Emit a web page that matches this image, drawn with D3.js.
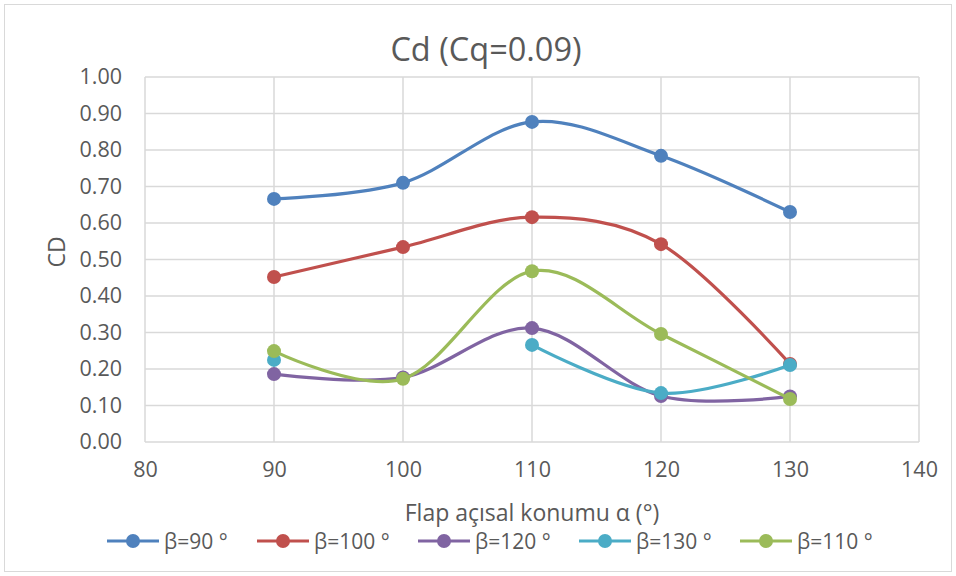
<!DOCTYPE html>
<html><head><meta charset="utf-8">
<script src="https://cdn.jsdelivr.net/npm/d3@7/dist/d3.min.js"></script>
<style>body{margin:0;background:#fff}svg{display:block}</style>
</head><body><svg id="c" width="956" height="576"></svg>
<script>
const xValues = [90, 100, 110, 120, 130];
const xTicks = [80, 90, 100, 110, 120, 130, 140];
const yTicks = [0, 0.1, 0.2, 0.3, 0.4, 0.5, 0.6, 0.7, 0.8, 0.9, 1.0];
const seriesNames = ["β=90 °", "β=100 °", "β=120 °", "β=130 °", "β=110 °"];
const seriesColors = ["#4F81BD", "#C0504D", "#8064A2", "#4BACC6", "#9BBB59"];
const beta90 = [0.666, 0.710, 0.877, 0.784, 0.630];
const beta100 = [0.452, 0.534, 0.616, 0.542, 0.214];
const beta120 = [0.186, 0.177, 0.312, 0.126, 0.125];
const beta130 = [0.225, null, 0.266, 0.134, 0.211];
const beta110 = [0.249, 0.173, 0.468, 0.296, 0.118];
const seriesValues = [beta90, beta100, beta120, beta130, beta110];
const title = "Cd (Cq=0.09)";
const xLabel = "Flap açısal konumu α (°)";
const yLabel = "CD";

const svg = d3.select("#c");
const font = "'Open Sans', 'Liberation Sans', sans-serif";
const txt = "#595959";
const grid = "#d9d9d9";

svg.append("rect").attr("x",4.5).attr("y",4.5).attr("width",947).attr("height",567)
  .attr("fill","#fff").attr("stroke","#d9d9d9").attr("stroke-width",1);

const x = d3.scaleLinear().domain([80,140]).range([145,919]);
const y = d3.scaleLinear().domain([0,1]).range([442,77]);

const g = svg.append("g");
g.selectAll("line.h").data(yTicks).enter().append("line")
  .attr("x1",x(80)).attr("x2",x(140)).attr("y1",d=>y(d)).attr("y2",d=>y(d))
  .attr("stroke",grid).attr("stroke-width",1.5);
g.selectAll("line.v").data(xTicks).enter().append("line")
  .attr("y1",y(0)).attr("y2",y(1)).attr("x1",d=>x(d)).attr("x2",d=>x(d))
  .attr("stroke",grid).attr("stroke-width",1.5);

const yAxis = d3.axisLeft(y).tickValues(yTicks).tickFormat(d3.format(".2f")).tickSize(0).tickPadding(23);
const ya = svg.append("g").attr("transform",`translate(${x(80)},0)`).call(yAxis);
ya.select(".domain").remove();
ya.selectAll("text").attr("font-family",font).attr("font-size",21.5).attr("fill",txt);

const xAxis = d3.axisBottom(x).tickValues(xTicks).tickFormat(d3.format("d")).tickSize(0).tickPadding(20);
const xa = svg.append("g").attr("transform",`translate(0,${y(0)})`).call(xAxis);
xa.select(".domain").remove();
xa.selectAll("text").attr("font-family",font).attr("font-size",21.5).attr("fill",txt);

svg.append("text").attr("x",486).attr("y",61).attr("text-anchor","middle")
  .attr("font-family",font).attr("font-size",32.5).attr("fill",txt).text(title);
svg.append("text").attr("x",532).attr("y",521).attr("text-anchor","middle")
  .attr("font-family",font).attr("font-size",23).attr("fill",txt).text(xLabel);
svg.append("text").attr("transform","translate(65,252) rotate(-90)").attr("text-anchor","middle")
  .attr("font-family",font).attr("font-size",23).attr("fill",txt).text(yLabel);

const line = d3.line().defined(d=>d.v!=null).x(d=>x(d.x)).y(d=>y(d.v)).curve(d3.curveCatmullRom.alpha(0));
seriesValues.forEach((vals,i)=>{
  const pts = xValues.map((xv,j)=>({x:xv,v:vals[j]}));
  svg.append("path").attr("d",line(pts)).attr("fill","none")
    .attr("stroke",seriesColors[i]).attr("stroke-width",3.2).attr("stroke-linecap","round");
  svg.selectAll(null).data(pts.filter(p=>p.v!=null)).enter().append("circle")
    .attr("cx",d=>x(d.x)).attr("cy",d=>y(d.v)).attr("r",7).attr("fill",seriesColors[i]);
});

const lx = [107, 257, 418, 579, 740];
const ly = 541;
seriesNames.forEach((n,i)=>{
  const lg = svg.append("g").attr("transform",`translate(${lx[i]},${ly})`);
  lg.append("line").attr("x1",0).attr("x2",52).attr("y1",0).attr("y2",0)
    .attr("stroke",seriesColors[i]).attr("stroke-width",3.2);
  lg.append("circle").attr("cx",26).attr("cy",0).attr("r",7).attr("fill",seriesColors[i]);
  lg.append("text").attr("x",57).attr("y",8).attr("font-family",font).attr("font-size",21)
    .attr("fill",txt).text(n);
});
</script></body></html>
